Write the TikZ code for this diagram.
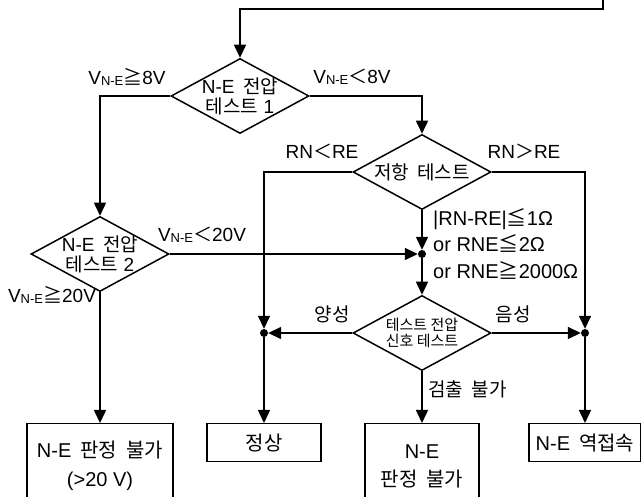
\documentclass[tikz,border=0pt]{standalone}
\usepackage{fontspec}
\setmainfont{Liberation Sans}
\newfontfamily\kr{Noto Sans CJK KR}
\usetikzlibrary{arrows.meta,shapes.geometric,positioning}

\newcommand{\vne}{V\raisebox{-1.5pt}{\fontsize{13}{13}\selectfont N-E}}
\newcommand{\ksp}{\hspace{0.45em}}

\tikzset{
	decision/.style={draw, diamond, line width=1.5pt, inner sep=0pt, minimum width=138pt, minimum height=75pt},
	dtext/.style={align=center, inner sep=0pt, font=\fontsize{19}{20}\selectfont},
	result/.style={draw, rectangle, line width=1.5pt, anchor=north, align=center, minimum height=38pt, font=\fontsize{20}{22}\selectfont},
	flow/.style={line width=1.5pt, -{Triangle[length=13pt,width=12pt]}},
	dot/.style={circle, fill, inner sep=0pt, minimum size=8pt},
	cond/.style={inner sep=0pt, font=\fontsize{19}{21}\selectfont},
}

\begin{document}
\begin{tikzpicture}[x=1pt, y=-1pt]
	\useasboundingbox (0,0) rectangle (641,497);

	% decisions
	\coordinate (start) at (603,0);
	\node[decision, label={[dtext]center:N-E\ksp{\kr 전압}\\{\kr 테스트} 1}] (test1) at (240,96) {};
	\node[decision, label={[dtext]center:N-E\ksp{\kr 전압}\\{\kr 테스트} 2}] (test2) at (100,254) {};
	\node[decision, label={[dtext]center:{\kr 저항}\ksp{\kr 테스트}}] (rtest) at (422,172) {};
	\node[decision, label={[dtext, font=\fontsize{15}{16}\selectfont]center:{\kr 테스트 전압}\\{\kr 신호 테스트}}] (stest) at (422,333) {};

	% junctions
	\node[dot] (jmid) at (422,254) {};
	\node[dot] (jleft) at (264,333) {};
	\node[dot] (jright) at (585,333) {};

	% results
	\node[result, minimum width=146pt, minimum height=85pt, font=\fontsize{20}{29}\selectfont] (over20) at (100,423) {N-E\ksp{\kr 판정}\ksp{\kr 불가}\\(>20 V)};
	\node[result, minimum width=114pt] (normal) at (264,423) {\kr 정상};
	\node[result, minimum width=114pt, minimum height=85pt, font=\fontsize{20}{28}\selectfont] (undet) at (422,423) {N-E\\{\kr 판정}\ksp{\kr 불가}};
	\node[result, minimum width=112pt] (reverse) at (585,423) {N-E\ksp{\kr 역접속}};

	% branch labels
	\node[cond] (ge8) at (127,77) {\vne{\kr ≧}8V};
	\node[cond] (lt8) at (352,77) {\vne{\kr ＜}8V};
	\node[cond] (rnlt) at (322,151) {RN{\kr ＜}RE};
	\node[cond] (rngt) at (524,151) {RN{\kr ＞}RE};
	\node[cond] (lt20) at (202,235) {\vne{\kr ＜}20V};
	\node[cond] (ge20) at (52,295) {\vne{\kr ≧}20V};
	\node[cond, anchor=west, align=left, font=\fontsize{20}{26.5}\selectfont] (rcond) at (433,244) {|RN-RE|{\kr ≦}1Ω\\or RNE{\kr ≦}2Ω\\or RNE{\kr ≧}2000Ω};
	\node[cond] (pos) at (332,314) {\kr 양성};
	\node[cond] (neg) at (513,314) {\kr 음성};
	\node[cond, anchor=west] (nodet) at (428,389) {{\kr 검출}\ksp{\kr 불가}};

	% connectors
	\draw[flow] (start) -- ++(0,9) -| (test1.north);
	\draw[flow] (test1.west) -| (test2.north);
	\draw[flow] (test1.east) -| (rtest.north);
	\draw[flow] (rtest.west) -| (jleft);
	\draw[flow] (rtest.east) -| (jright);
	\draw[flow] (rtest.south) -- (jmid);
	\draw[flow] (test2.east) -- (jmid);
	\draw[flow] (jmid) -- (stest.north);
	\draw[flow] (stest.west) -- (jleft);
	\draw[flow] (stest.east) -- (jright);
	\draw[flow] (jleft) -- (normal);
	\draw[flow] (jright) -- (reverse);
	\draw[flow] (stest.south) -- (undet);
	\draw[flow] (test2.south) -- (over20);
\end{tikzpicture}
\end{document}
